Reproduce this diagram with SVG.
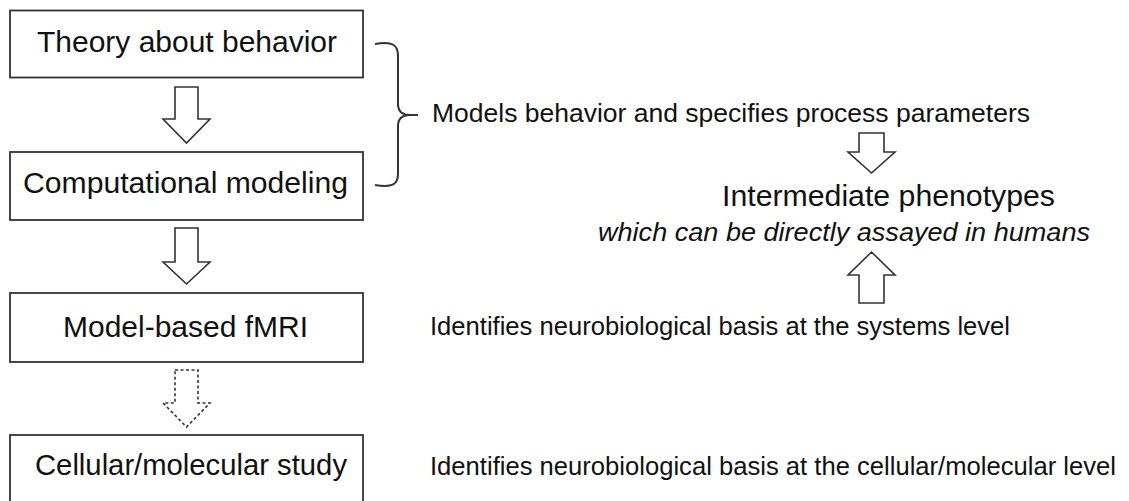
<svg xmlns="http://www.w3.org/2000/svg" width="1129" height="501" viewBox="0 0 1129 501">
<style>
.box{fill:#fff;stroke:#333;stroke-width:1.8}
.bt{font-family:"Liberation Sans",Arial,sans-serif;font-size:29.5px;fill:#111;text-anchor:start}
.rt{font-family:"Liberation Sans",Arial,sans-serif;font-size:25.5px;fill:#111}
.arr{fill:#fff;stroke:#333;stroke-width:1.6;stroke-linejoin:miter}
.dash{stroke-dasharray:3 2.5}
.br{fill:none;stroke:#333;stroke-width:2}
</style>
<rect width="1129" height="501" fill="#fff"/>
<g id="node-theory">
<rect class="box" x="10" y="10.5" width="353" height="67"/>
<text class="bt" x="37" y="52" textLength="300" lengthAdjust="spacingAndGlyphs">Theory about behavior</text>
</g>
<g id="node-computational">
<rect class="box" x="10" y="152" width="353" height="68"/>
<text class="bt" x="23" y="193" textLength="325" lengthAdjust="spacingAndGlyphs">Computational modeling</text>
</g>
<g id="node-fmri">
<rect class="box" x="10" y="293" width="353" height="69"/>
<text class="bt" x="63" y="337" textLength="245" lengthAdjust="spacingAndGlyphs">Model-based fMRI</text>
</g>
<g id="node-cellular">
<rect class="box" x="10" y="435" width="353" height="70"/>
<text class="bt" x="35" y="475" textLength="312" lengthAdjust="spacingAndGlyphs">Cellular/molecular study</text>
</g>
<g id="node-models">
<text class="rt" x="432" y="122" textLength="598" lengthAdjust="spacingAndGlyphs">Models behavior and specifies process parameters</text>
</g>
<g id="node-intermediate">
<text x="722" y="206" font-family="Liberation Sans, Arial, sans-serif" font-size="29.5" fill="#111" textLength="333" lengthAdjust="spacingAndGlyphs">Intermediate phenotypes</text>
<text class="rt" x="598" y="241" font-style="italic" textLength="492" lengthAdjust="spacingAndGlyphs">which can be directly assayed in humans</text>
</g>
<g id="node-systems">
<text class="rt" x="430" y="335" textLength="580" lengthAdjust="spacingAndGlyphs">Identifies neurobiological basis at the systems level</text>
</g>
<g id="node-cellular-level">
<text class="rt" x="430" y="475" textLength="686" lengthAdjust="spacingAndGlyphs">Identifies neurobiological basis at the cellular/molecular level</text>
</g>
<g id="connectors">
<path class="arr" d="M175,87 H198 V119 H210 L186.5,143 L163,119 H175 Z"/>
<path class="arr" d="M175,228 H198 V262 H210 L186.5,284 L163,262 H175 Z"/>
<path class="arr dash" d="M175,370 H198 V403 H210 L186.5,427 L163,403 H175 Z"/>
<path class="arr" d="M859,133 H884 V152 H895 L871.5,173 L848,152 H859 Z"/>
<path class="arr" d="M859,303 H884 V275 H895 L871.5,252 L848,275 H859 Z"/>
<path class="br" d="M375,44 C393,41 398,45 398,56 L398,104 C398,111 402,115 410,115 L418,115"/>
<path class="br" d="M375,185 C393,188 398,184 398,174 L398,126 C398,119 402,115 410,115"/>
</g>
</svg>
